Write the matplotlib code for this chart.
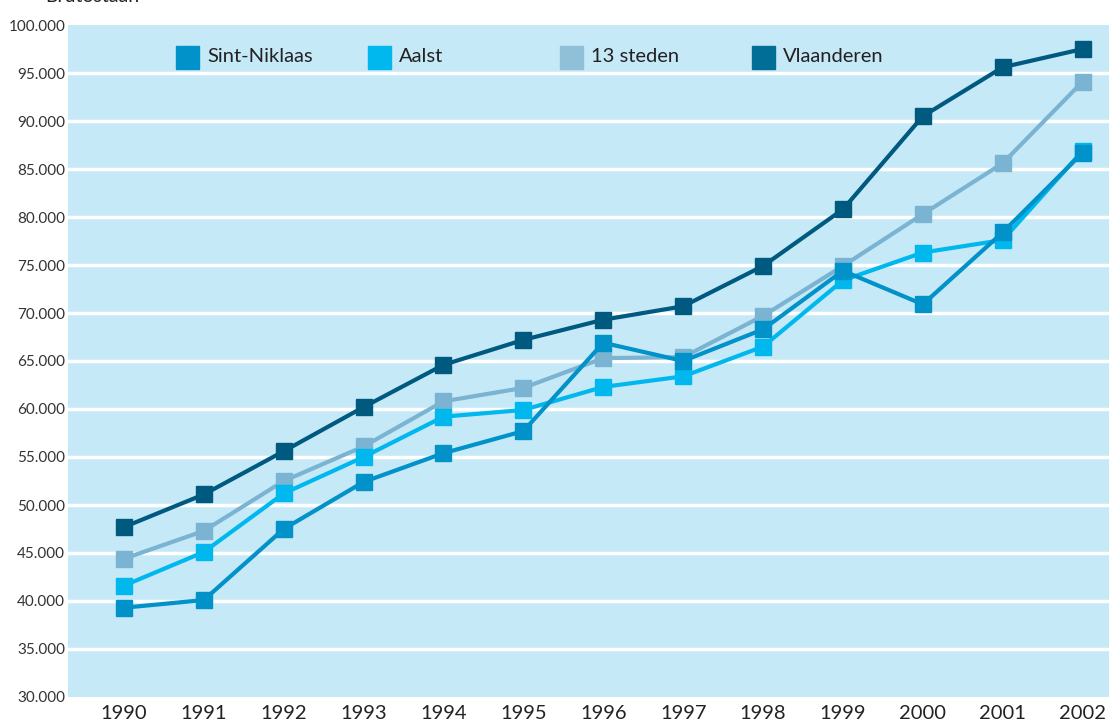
import numpy as np
import matplotlib.pyplot as plt
from matplotlib.patches import Rectangle

plt.rcParams['font.family'] = ['Lato', 'DejaVu Sans']

years = list(range(1990, 2003))
series_names = ['Sint-Niklaas', 'Aalst', '13 steden', 'Vlaanderen']

sint_niklaas = [39300, 40100, 47500, 52400, 55400, 57700, 66900, 65000, 68300, 74400, 70900, 78400, 86700]
aalst = [41600, 45100, 51200, 55000, 59200, 59900, 62300, 63400, 66500, 73400, 76300, 77600, 86900]
steden_13 = [44400, 47300, 52500, 56100, 60800, 62200, 65300, 65400, 69700, 74900, 80300, 85600, 94100]
vlaanderen = [47700, 51100, 55600, 60200, 64600, 67200, 69300, 70700, 74900, 80800, 90500, 95600, 97500]

line_colors = {'Sint-Niklaas': '#0092c8', 'Aalst': '#00b8ee',
               '13 steden': '#7ab4d2', 'Vlaanderen': '#005a80'}
legend_colors = {'Sint-Niklaas': '#0092c8', 'Aalst': '#00b8ee',
                 '13 steden': '#8fc0d8', 'Vlaanderen': '#006e96'}
values = {'Sint-Niklaas': sint_niklaas, 'Aalst': aalst,
          '13 steden': steden_13, 'Vlaanderen': vlaanderen}

W, H = 1109, 725
fig = plt.figure(figsize=(W / 100, H / 100), dpi=100)
ax = fig.add_axes([68 / W, 28 / H, (W - 68) / W, 672 / H])
ax.set_facecolor('#c6e9f8')

# draw bottom to top so Sint-Niklaas sits on top
for name in ['Vlaanderen', '13 steden', 'Aalst', 'Sint-Niklaas']:
    ax.plot(years, values[name], color=line_colors[name], lw=3.0,
            marker='s', markersize=12, zorder=3)

ax.set_xlim(1989.3, 2002.33)
ax.set_ylim(30000, 100000)
yt = np.arange(30000, 100001, 5000)
ax.set_yticks(yt)
ax.set_yticklabels([f'{v // 1000}.000' for v in yt], fontsize=11, color='#333333')
ax.set_xticks(years)
ax.set_xticklabels([str(y) for y in years], fontsize=14.5, color='#222222')
ax.tick_params(length=0)
ax.tick_params(axis='y', pad=2)
ax.tick_params(axis='x', pad=6)
for v in yt[1:-1]:
    ax.axhline(v, color='white', lw=2.5, zorder=1)
for s in ax.spines.values():
    s.set_visible(False)

# legend laid out in fixed columns
for i, name in enumerate(series_names):
    x0 = (176 + i * 192) / W
    fig.patches.append(Rectangle((x0, (725 - 69) / H), 23 / W, 23 / H,
                                 transform=fig.transFigure,
                                 color=legend_colors[name], zorder=5))
    fig.text(x0 + 31 / W, (725 - 57) / H, name, fontsize=14.5,
             color='#222222', va='center', zorder=6)

fig.text(45 / W, (725 - 5) / H, 'Brutostaan', fontsize=14, color='#222222',
         va='bottom')

fig.savefig('out.png', dpi=100)
